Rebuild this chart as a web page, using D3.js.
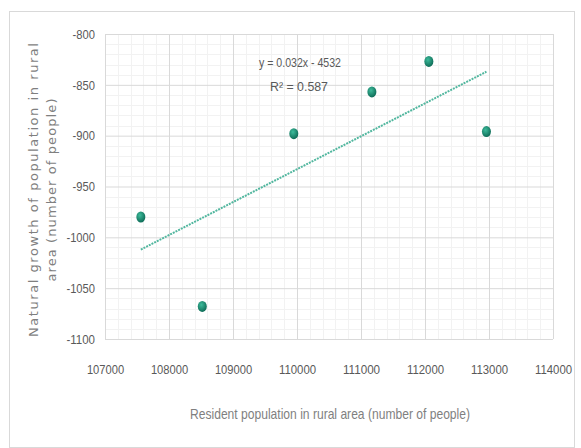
<!DOCTYPE html>
<html>
<head>
<meta charset="utf-8">
<script src="https://cdn.jsdelivr.net/npm/d3@7"></script>
<style>
  html, body { margin: 0; padding: 0; background: #fff; }
  svg { display: block; }
</style>
</head>
<body>
<svg id="chart" width="581" height="448"></svg>
<script>
// ---- data ----
const residentPopulation = [107560, 108520, 109950, 111170, 112060, 112960];
const naturalGrowth      = [-980, -1068, -898, -857, -827, -896];
const xTicks = [107000, 108000, 109000, 110000, 111000, 112000, 113000, 114000];
const yTicks = [-800, -850, -900, -950, -1000, -1050, -1100];
const equationLabel = "y = 0.032x - 4532";
const r2Label = "R² = 0.587";
const xTitle = "Resident population in rural area (number of people)";
const yTitleLines = ["Natural growth of population in rural", "area (number of people)"];

// ---- layout ----
const svg = d3.select("#chart");
const W = 581, H = 448;
const plot = { left: 105, right: 553, top: 34, bottom: 339 };
const narrowFont = "'Liberation Sans Narrow', 'Arial Narrow', 'Liberation Sans', sans-serif";
const fmt = d => String(d);
// approximate narrow-font width for a numeric label
const numWidth = s => s.replace(/-/g, "").length * 6.2 + (s.includes("-") ? 3.8 : 0);

svg.append("rect").attr("x", 0).attr("y", 0).attr("width", W).attr("height", H).attr("fill", "#fff");
svg.append("rect").attr("x", 9.5).attr("y", 11.5).attr("width", 565).attr("height", 436)
  .attr("fill", "#fff").attr("stroke", "#d9d9d9").attr("stroke-width", 1);

const x = d3.scaleLinear().domain([107000, 114000]).range([plot.left, plot.right]);
const y = d3.scaleLinear().domain([-1100, -800]).range([plot.bottom, plot.top]);

// minor gridlines
const g = svg.append("g");
const minorX = d3.range(107000, 114000 + 1, 200).filter(v => v % 1000 !== 0);
const minorY = d3.range(-1100, -800 + 1, 10).filter(v => v % 50 !== 0);
g.selectAll(".mx").data(minorX).join("line")
  .attr("x1", d => Math.round(x(d)) + 0.5).attr("x2", d => Math.round(x(d)) + 0.5)
  .attr("y1", plot.top).attr("y2", plot.bottom)
  .attr("stroke", "#f2f2f2").attr("stroke-width", 1);
g.selectAll(".my").data(minorY).join("line")
  .attr("y1", d => Math.round(y(d)) + 0.5).attr("y2", d => Math.round(y(d)) + 0.5)
  .attr("x1", plot.left).attr("x2", plot.right)
  .attr("stroke", "#f2f2f2").attr("stroke-width", 1);

// major gridlines via axes
const xGrid = d3.axisBottom(x).tickValues(xTicks).tickSize(-(plot.bottom - plot.top)).tickFormat("");
svg.append("g").attr("transform", `translate(0,${plot.bottom})`).call(xGrid)
  .call(s => s.select(".domain").remove())
  .call(s => s.selectAll("line").attr("stroke", "#d9d9d9"));
const yGrid = d3.axisLeft(y).tickValues(yTicks).tickSize(-(plot.right - plot.left)).tickFormat("");
svg.append("g").attr("transform", `translate(${plot.left},0)`).call(yGrid)
  .call(s => s.select(".domain").remove())
  .call(s => s.selectAll("line").attr("stroke", "#d9d9d9"));

// tick labels via axes
const xAxis = d3.axisBottom(x).tickValues(xTicks).tickSize(0).tickPadding(0).tickFormat(fmt);
svg.append("g").attr("transform", `translate(0,${plot.bottom + 26})`).call(xAxis)
  .call(s => s.select(".domain").remove())
  .call(s => s.selectAll("text").attr("font-size", 13).attr("fill", "#595959")
    .attr("font-family", narrowFont)
    .attr("textLength", d => numWidth(fmt(d))).attr("lengthAdjust", "spacingAndGlyphs"));
const yAxis = d3.axisLeft(y).tickValues(yTicks).tickSize(0).tickPadding(10).tickFormat(fmt);
svg.append("g").attr("transform", `translate(${plot.left},0)`).call(yAxis)
  .call(s => s.select(".domain").remove())
  .call(s => s.selectAll("text").attr("font-size", 13).attr("fill", "#595959")
    .attr("font-family", narrowFont)
    .attr("textLength", d => numWidth(fmt(d))).attr("lengthAdjust", "spacingAndGlyphs"));

// trendline (least squares from data)
const n = residentPopulation.length;
const mx = d3.mean(residentPopulation), my = d3.mean(naturalGrowth);
let sxy = 0, sxx = 0;
for (let i = 0; i < n; i++) {
  sxy += (residentPopulation[i] - mx) * (naturalGrowth[i] - my);
  sxx += (residentPopulation[i] - mx) ** 2;
}
const slope = sxy / sxx, intercept = my - slope * mx;
const [x0, x1] = d3.extent(residentPopulation);
svg.append("line")
  .attr("x1", x(x0)).attr("y1", y(slope * x0 + intercept))
  .attr("x2", x(x1)).attr("y2", y(slope * x1 + intercept))
  .attr("stroke", "#52b79f").attr("stroke-width", 2).attr("stroke-dasharray", "2,1");

// markers
const defs = svg.append("defs");
const grad = defs.append("radialGradient").attr("id", "mk").attr("cx", "40%").attr("cy", "35%").attr("r", "65%");
grad.append("stop").attr("offset", "0%").attr("stop-color", "#3dbb9b");
grad.append("stop").attr("offset", "100%").attr("stop-color", "#0f6d58");
svg.selectAll(".pt").data(residentPopulation.map((v, i) => [v, naturalGrowth[i]])).join("ellipse")
  .attr("cx", d => x(d[0])).attr("cy", d => y(d[1]))
  .attr("rx", 4.5).attr("ry", 5.5).attr("fill", "url(#mk)");

// equation labels
svg.append("text").attr("x", 300).attr("y", 67).attr("text-anchor", "middle")
  .attr("font-family", narrowFont).attr("font-size", 13).attr("fill", "#595959")
  .attr("textLength", 82).attr("lengthAdjust", "spacingAndGlyphs").text(equationLabel);
svg.append("text").attr("x", 299).attr("y", 91).attr("text-anchor", "middle")
  .attr("font-family", narrowFont).attr("font-size", 13).attr("fill", "#595959")
  .attr("textLength", 58).attr("lengthAdjust", "spacingAndGlyphs").text(r2Label);

// axis titles
svg.append("text").attr("x", 330).attr("y", 419).attr("text-anchor", "middle")
  .attr("font-family", narrowFont).attr("font-size", 15).attr("fill", "#7f7f7f")
  .attr("textLength", 280).attr("lengthAdjust", "spacingAndGlyphs").text(xTitle);

const yt = svg.append("text").attr("transform", "translate(0,190) rotate(-90)")
  .attr("text-anchor", "middle").attr("font-family", "'DejaVu Sans', Verdana, sans-serif")
  .attr("font-size", 13).attr("fill", "#7f7f7f");
yt.append("tspan").attr("x", 0).attr("y", 38).attr("textLength", 294).attr("lengthAdjust", "spacing").text(yTitleLines[0]);
yt.append("tspan").attr("x", 0).attr("y", 56).attr("textLength", 183).attr("lengthAdjust", "spacing").text(yTitleLines[1]);
</script>
</body>
</html>
